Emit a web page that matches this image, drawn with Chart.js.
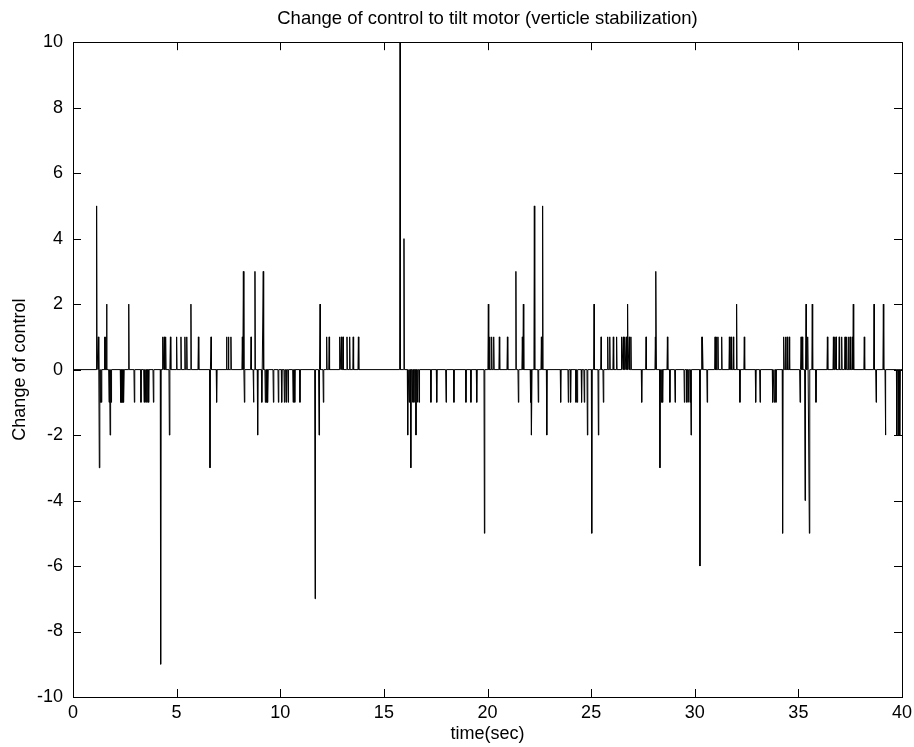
<!DOCTYPE html>
<html>
<head>
<meta charset="utf-8">
<script src="https://cdn.jsdelivr.net/npm/chart.js@4/dist/chart.umd.min.js"></script>
<style>
  html, body { margin: 0; padding: 0; background: #ffffff; }
  #wrap { width: 914px; height: 747px; }
</style>
</head>
<body>
<div id="wrap"><canvas id="c" width="914" height="747"></canvas></div>
<script>
// ---- data ----
const titleText = 'Change of control to tilt motor (verticle stabilization)';
const xLabel = 'time(sec)';
const yLabel = 'Change of control';
const xTicks = [0, 5, 10, 15, 20, 25, 30, 35, 40];
const yTicks = [-10, -8, -6, -4, -2, 0, 2, 4, 6, 8, 10];

// impulse times (sec) and their control change values
const spikeTimes = [
  1.14, 1.22, 1.27, 1.32, 1.37, 1.52, 1.57, 1.62, 1.74, 1.79, 1.84,
  2.30, 2.35, 2.40, 2.45, 2.69, 2.96, 3.28, 3.43, 3.50, 3.57, 3.65, 3.88,
  4.23, 4.33, 4.40, 4.47, 4.65, 4.70, 5.00,
  5.21, 5.40, 5.49, 5.69, 6.05, 6.61, 6.66, 6.93, 7.41, 7.50, 7.62,
  8.17, 8.22, 8.27, 8.59, 8.71, 8.78, 8.91, 9.11, 9.18, 9.28, 9.35, 9.40,
  9.67, 9.91, 10.07,
  10.20, 10.28, 10.38, 10.62, 10.70, 10.95, 11.68, 11.87, 11.92, 12.08,
  12.24, 12.36, 12.87, 12.95, 13.03, 13.22, 13.35, 13.52, 13.77,
  15.78, 15.97, 16.15, 16.22, 16.30, 16.38, 16.45, 16.55, 16.62, 16.70,
  17.27, 17.55, 18.00, 18.38, 18.96, 19.20, 19.48, 19.85, 20.04,
  20.10, 20.20, 20.30, 20.57, 20.96, 21.37, 21.49, 21.68, 21.73, 22.08,
  22.13, 22.26, 22.45, 22.60, 22.66, 22.86, 23.53, 23.90, 24.01, 24.27,
  24.33, 24.54, 24.67, 24.82, 25.03,
  25.14, 25.35, 25.48, 25.59, 25.80, 25.90, 26.07, 26.23, 26.47, 26.55,
  26.62, 26.70, 26.76, 26.84, 26.92, 27.44, 27.65, 28.10, 28.13, 28.32,
  28.38, 28.45, 28.68, 28.80, 29.05, 29.50, 29.62, 29.70, 29.78, 29.82, 30.25,
  30.34, 30.38, 30.60, 30.98, 31.05, 31.12, 31.30, 31.67, 31.75, 31.86,
  32.02, 32.18, 32.39, 32.94, 33.15, 33.76, 33.84, 33.92, 34.24, 34.30,
  34.38, 34.46, 34.56, 35.08, 35.13, 35.19, 35.32, 35.37, 35.45, 35.53,
  35.67, 35.85,
  36.40, 36.69, 36.76, 36.82, 36.97, 37.09, 37.25, 37.33, 37.42, 37.50,
  37.60, 37.65, 38.18, 38.65, 38.75, 39.10, 39.20, 39.75, 39.85, 39.90
];
const spikeValues = [
  5, 1, -3, -1, -1, 1, 1, 2, -1, -2, -1,
  -1, -1, -1, -1, 2, -1, -1, -1, -1, -1, -1, -1,
  -9, 1, 1, 1, -2, 1, 1,
  1, 1, 1, 2, 1, -3, 1, -1, 1, 1, 1,
  1, 3, -1, 1, -1, 3, -2, -1, 3, -1, -1, -1,
  -1, -1, -1,
  -1, -1, -1, -1, -1, -1, -7, -2, 2, -1,
  1, 1, 1, 1, 1, 1, 1, 1, 1,
  10, 4, -2, -1, -3, -1, -1, -2, -1, -1,
  -1, -1, -1, -1, -1, -1, -1, -5, 2,
  1, 1, 1, 1, 1, 3, -1, 1, 2, -1,
  -2, 5, -1, 1, 5, -2, -1, -1, -1, -1,
  -1, -1, -1, -2, -5,
  2, -2, 1, -1, 1, 1, 1, 1, 1, 1,
  1, 1, 2, 1, 1, -1, 1, 1, 3, -3,
  -1, -1, 1, -1, -1, -1, -1, -1, -1, -2, -6,
  1, 1, -1, 1, 1, 1, 1, 1, 1, 1,
  2, -1, 1, -1, -1, -1, -1, -1, -5, 1,
  1, 1, 1, -1, 1, 1, -4, 2, 1, -5,
  2, -1,
  1, 1, 1, 1, 1, 1, 1, 1, 1, 1,
  1, 2, 1, 2, -1, 2, -2, -2, -2, -2
];

// build the plotted line: each impulse rises from 0 and returns to 0
const halfWidth = 0.02;
const pts = [{x: 0, y: 0}];
spikeTimes.forEach((t, i) => {
  pts.push({x: t - halfWidth, y: 0});
  pts.push({x: t, y: spikeValues[i]});
  pts.push({x: t + halfWidth, y: 0});
});
pts.push({x: 40, y: 0});
pts.sort((a, b) => a.x - b.x);

const FONT = "'Liberation Sans', Arial, Helvetica, sans-serif";

// centre the title over the plot area (as MATLAB does)
const titleCenterPlugin = {
  id: 'titleCenter',
  afterLayout(chart) {
    const t = chart.titleBlock;
    if (t) { t.left = chart.chartArea.left; t.right = chart.chartArea.right; }
  }
};

// frame and inward tick marks (MATLAB style)
const framePlugin = {
  id: 'frame',
  afterDatasetsDraw(chart) {
    const {ctx, chartArea: a, scales: {x, y}} = chart;
    ctx.save();
    ctx.strokeStyle = '#000';
    ctx.lineWidth = 1;
    ctx.strokeRect(Math.round(a.left) + 0.5, Math.round(a.top) + 0.5,
                   Math.round(a.right - a.left), Math.round(a.bottom - a.top));
    const L = 8;
    ctx.beginPath();
    xTicks.forEach(v => {
      const px = Math.round(x.getPixelForValue(v)) + 0.5;
      ctx.moveTo(px, a.bottom); ctx.lineTo(px, a.bottom - L);
      ctx.moveTo(px, a.top); ctx.lineTo(px, a.top + L);
    });
    yTicks.forEach(v => {
      const py = Math.round(y.getPixelForValue(v)) + 0.5;
      ctx.moveTo(a.left, py); ctx.lineTo(a.left + L, py);
      ctx.moveTo(a.right, py); ctx.lineTo(a.right - L, py);
    });
    ctx.stroke();
    ctx.restore();
  }
};

new Chart(document.getElementById('c'), {
  type: 'scatter',
  data: {
    datasets: [{
      data: pts,
      showLine: true,
      borderColor: '#000',
      borderWidth: 1,
      pointRadius: 0,
      tension: 0,
      fill: false
    }]
  },
  options: {
    responsive: false,
    animation: false,
    layout: { padding: { left: 0, right: 12, top: 0, bottom: 0 } },
    plugins: {
      legend: { display: false },
      tooltip: { enabled: false },
      title: {
        display: true,
        text: titleText,
        color: '#000',
        font: { family: FONT, size: 18.5, weight: 'normal' },
        padding: { top: 8, bottom: 12 }
      }
    },
    scales: {
      x: {
        type: 'linear',
        min: 0, max: 40,
        afterBuildTicks: s => { s.ticks = xTicks.map(v => ({value: v})); },
        afterFit: s => { s.height = 50; s.paddingLeft = 0; s.paddingRight = 0; },
        grid: { display: false, drawTicks: false },
        border: { display: false },
        ticks: { color: '#000', font: { family: FONT, size: 18 }, padding: 5, maxRotation: 0 },
        title: { display: true, text: xLabel, color: '#000',
                 font: { family: FONT, size: 18 }, padding: { top: 0, bottom: 2 } }
      },
      y: {
        type: 'linear',
        min: -10, max: 10,
        afterBuildTicks: s => { s.ticks = yTicks.map(v => ({value: v})); },
        afterFit: s => { s.width = 73; },
        grid: { display: false, drawTicks: false },
        border: { display: false },
        ticks: { color: '#000', font: { family: FONT, size: 18 }, padding: 10 },
        title: { display: true, text: yLabel, color: '#000',
                 font: { family: FONT, size: 18 }, padding: { top: 9, bottom: 0 } }
      }
    }
  },
  plugins: [titleCenterPlugin, framePlugin]
});
</script>
</body>
</html>
